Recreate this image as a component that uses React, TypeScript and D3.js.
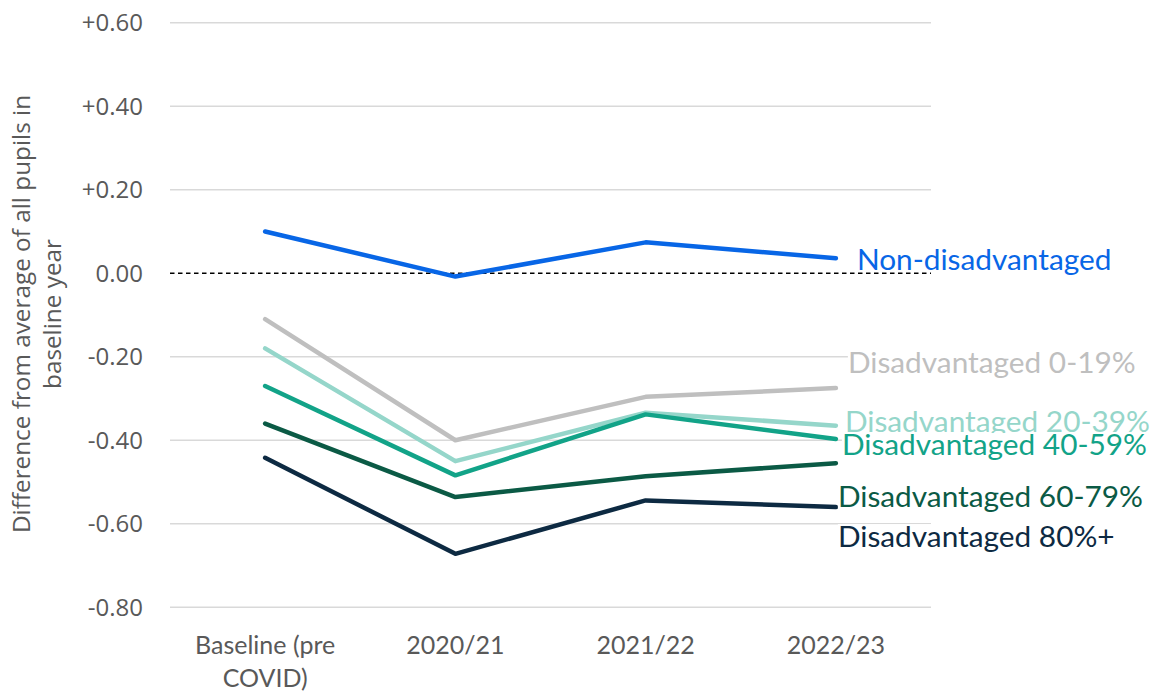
import React, { useEffect, useRef } from "react";
import * as d3 from "d3";

// Category labels along the x axis (multi-line labels split by "\n")
const categories = ["Baseline (pre\nCOVID)", "2020/21", "2021/22", "2022/23"];

// Difference from average of all pupils in baseline year, per group
const nonDisadvantaged = [0.1, -0.008, 0.074, 0.036];
const disadvantaged0to19 = [-0.11, -0.4, -0.296, -0.275];
const disadvantaged20to39 = [-0.18, -0.45, -0.334, -0.365];
const disadvantaged40to59 = [-0.27, -0.484, -0.338, -0.397];
const disadvantaged60to79 = [-0.36, -0.536, -0.486, -0.455];
const disadvantaged80plus = [-0.442, -0.672, -0.544, -0.56];

const seriesNames = [
  "Non-disadvantaged",
  "Disadvantaged 0-19%",
  "Disadvantaged 20-39%",
  "Disadvantaged 40-59%",
  "Disadvantaged 60-79%",
  "Disadvantaged 80%+",
];
const seriesValues = [
  nonDisadvantaged,
  disadvantaged0to19,
  disadvantaged20to39,
  disadvantaged40to59,
  disadvantaged60to79,
  disadvantaged80plus,
];

const yTicks = [0.6, 0.4, 0.2, 0, -0.2, -0.4, -0.6, -0.8];

// Styling and label placement (pixel offsets from each series' last point)
const colors = ["#0866E6", "#BFBFBF", "#95D6CA", "#12A388", "#0B5A45", "#0D2A42"];
const labelOffsets: [number, number][] = [
  [21, 1],
  [12, -26],
  [9, -4],
  [6, 6],
  [2, 33],
  [2, 29],
];

const W = 1155;
const H = 693;

export default function App() {
  const ref = useRef<SVGSVGElement | null>(null);

  useEffect(() => {
    const svg = d3.select(ref.current);
    svg.selectAll("*").remove();

    const x = d3
      .scaleBand<number>()
      .domain(d3.range(categories.length))
      .range([170, 931]);
    const cx = (i: number) => (x(i) as number) + x.bandwidth() / 2;
    const y = d3.scaleLinear().domain([-0.8, 0.6]).range([607.3, 22.7]);

    svg
      .append("g")
      .selectAll("line")
      .data(yTicks.filter((t) => t !== 0))
      .join("line")
      .attr("x1", 170)
      .attr("x2", 931)
      .attr("y1", (d) => y(d))
      .attr("y2", (d) => y(d))
      .attr("stroke", "#D9D9D9")
      .attr("stroke-width", 1.5);

    // zero reference line
    svg
      .append("line")
      .attr("x1", 170)
      .attr("x2", 931)
      .attr("y1", y(0))
      .attr("y2", y(0))
      .attr("stroke", "#000")
      .attr("stroke-width", 1.3)
      .attr("stroke-dasharray", "4.5,3.5");

    // y tick labels
    const fmt = (v: number) =>
      v === 0 ? "0.00" : (v > 0 ? "+" : "-") + Math.abs(v).toFixed(2);
    svg
      .append("g")
      .selectAll("text")
      .data(yTicks)
      .join("text")
      .attr("x", 143)
      .attr("y", (d) => y(d))
      .attr("dy", "0.36em")
      .attr("text-anchor", "end")
      .attr("font-family", "'Open Sans', sans-serif")
      .attr("font-size", 24)
      .attr("fill", "#595959")
      .text(fmt);

    // y axis title
    const title = svg
      .append("text")
      .attr("transform", `translate(30, 314) rotate(-90)`)
      .attr("text-anchor", "middle")
      .attr("font-family", "'Open Sans', sans-serif")
      .attr("font-size", 24.3)
      .attr("fill", "#595959");
    title.append("tspan").attr("x", 0).attr("y", 0).text("Difference from average of all pupils in");
    title.append("tspan").attr("x", 0).attr("y", 31).text("baseline year");

    // x category labels
    const xl = svg
      .append("g")
      .selectAll("text")
      .data(categories)
      .join("text")
      .attr("text-anchor", "middle")
      .attr("font-family", "Lato, 'Open Sans', sans-serif")
      .attr("font-size", 25)
      .attr("fill", "#595959");
    xl.each(function (d, i) {
      const t = d3.select(this);
      d.split("\n").forEach((line, k) => {
        t.append("tspan")
          .attr("x", cx(i))
          .attr("y", 654 + k * 33)
          .text(line);
      });
    });

    // series lines
    const line = d3
      .line<number>()
      .x((_, i) => cx(i))
      .y((d) => y(d));
    svg
      .append("g")
      .selectAll("path")
      .data(seriesValues)
      .join("path")
      .attr("d", (d) => line(d))
      .attr("fill", "none")
      .attr("stroke", (_, i) => colors[i])
      .attr("stroke-width", 4.5)
      .attr("stroke-linecap", "round")
      .attr("stroke-linejoin", "round");

    // end labels with white backing
    const last = categories.length - 1;
    const labelG = svg.append("g");
    seriesNames.forEach((name, s) => {
      const lx = cx(last) + labelOffsets[s][0];
      const ly = y(seriesValues[s][last]) + labelOffsets[s][1];
      const g = labelG.append("g");
      const rect = g.append("rect").attr("fill", "#fff");
      const t = g
        .append("text")
        .attr("x", lx)
        .attr("y", ly)
        .attr("dy", "0.35em")
        .attr("font-family", "Lato, 'Open Sans', sans-serif")
        .attr("font-size", 29.8)
        .attr("fill", colors[s])
        .text(name);
      const bb = (t.node() as SVGTextElement).getBBox();
      rect
        .attr("x", bb.x)
        .attr("y", ly - 12)
        .attr("width", bb.width)
        .attr("height", 24);
    });
  }, []);

  return (
    <svg
      ref={ref}
      width={W}
      height={H}
      style={{ position: "absolute", left: 0, top: 0, background: "#fff" }}
    />
  );
}
